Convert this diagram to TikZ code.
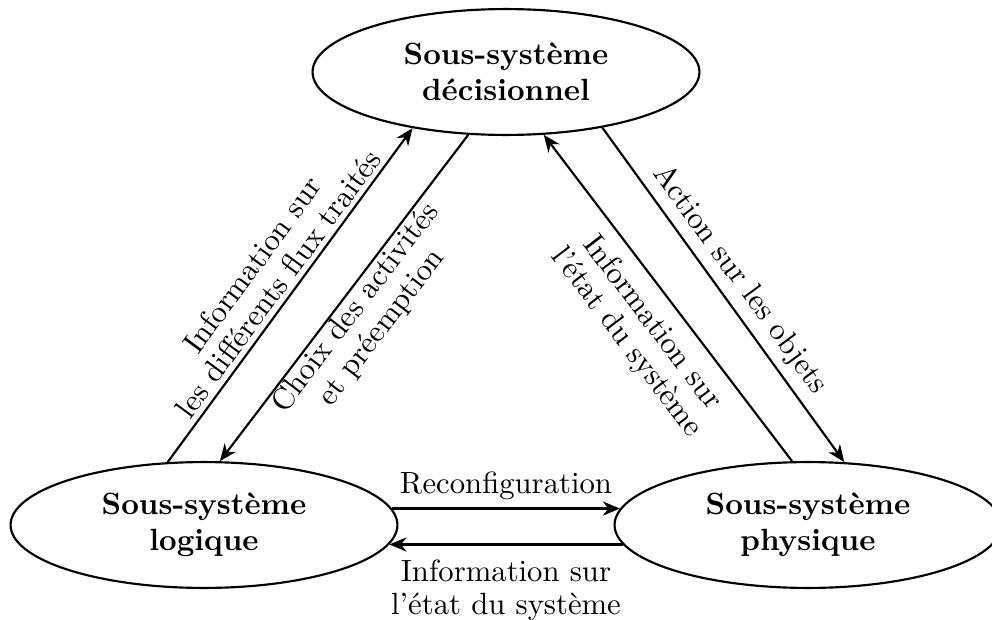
\documentclass[tikz,border=0pt]{standalone}
\usetikzlibrary{arrows.meta,shapes.geometric}
\begin{document}
\begin{tikzpicture}[x=0.3257pt,y=-0.3257pt,
  sys/.style={ellipse, draw, line width=0.7pt, minimum width=126pt, minimum height=41pt,
    inner sep=0pt, align=center, font=\fontsize{10}{11.8}\selectfont\bfseries},
  conn/.style={line width=0.7pt, -{Stealth[length=5.6pt,width=4.6pt,inset=1.8pt]}},
  lbl/.style={align=center, inner sep=0pt, font=\fontsize{10}{10.5}\selectfont}]
\useasboundingbox (0,0) rectangle (992,620);
\node[sys] (top) at (506,72) {Sous-système\\décisionnel};
\node[sys] (left) at (204,525) {Sous-système\\logique};
\node[sys] (right) at (808,525) {Sous-système\\physique};
% diagonal connectors
\draw[conn] (left.120) -- (top.211);
\draw[conn] (top.239) -- (left.76);
\draw[conn] (right.104) -- (top.301);
\draw[conn] (top.330) -- (right.60);
% horizontal connectors
\draw[conn] (left.5) -- (right.175);
\draw[conn] (right.186) -- (left.-6);
% labels
\node[lbl, rotate=53.6] (l1) at (265,274) {Information sur\\les différents flux traités};
\node[lbl, rotate=52.6] (l2) at (369,318) {Choix des activités\\et préemption};
\node[lbl, rotate=-52.7] (l3) at (639,333) {Information sur\\l'état du système};
\node[lbl, rotate=-53.7] (l4) at (740,280) {Action sur les objets};
\node[lbl, anchor=base] (l5) at (506,493) {Reconfiguration};
\node[lbl, anchor=base] (l6) at (506,614) {Information sur\\l'état du système};
\end{tikzpicture}
\end{document}
